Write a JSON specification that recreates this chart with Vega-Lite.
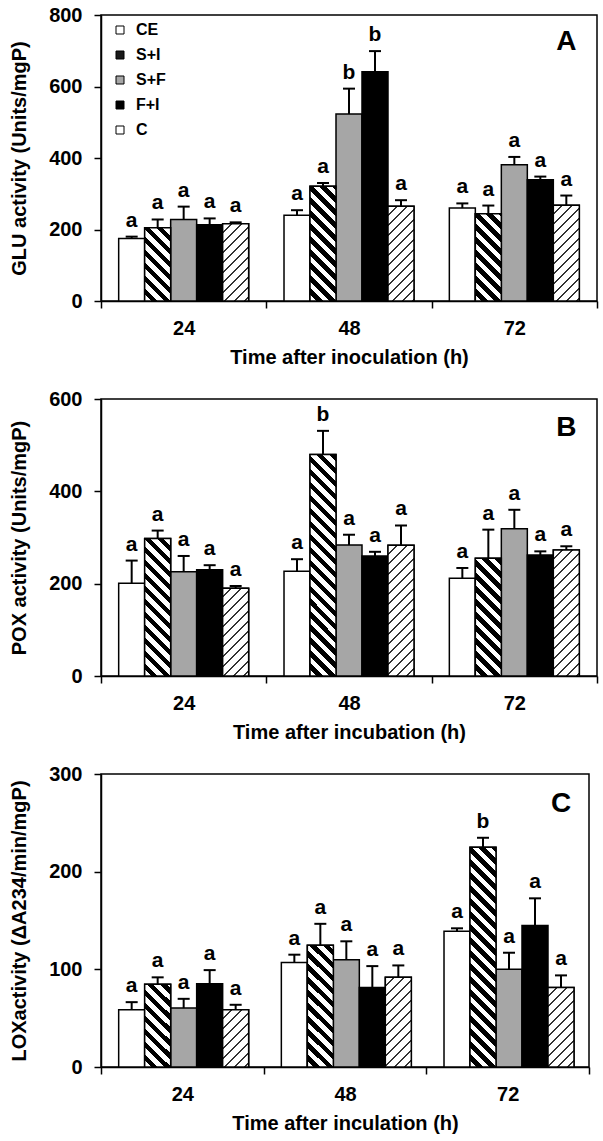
{
  "$schema": "https://vega.github.io/schema/vega-lite/v6.json",
  "padding": {"left": 8, "top": 4, "right": 4, "bottom": 2},
  "spacing": 20,
  "params": [
    {"name": "siStops", "value": [
      {"offset":0,"color":"#fff"},{"offset":0.025,"color":"#fff"},{"offset":0.025,"color":"#000"},{"offset":0.05,"color":"#000"},
      {"offset":0.05,"color":"#fff"},{"offset":0.075,"color":"#fff"},{"offset":0.075,"color":"#000"},{"offset":0.1,"color":"#000"},
      {"offset":0.1,"color":"#fff"},{"offset":0.125,"color":"#fff"},{"offset":0.125,"color":"#000"},{"offset":0.15,"color":"#000"},
      {"offset":0.15,"color":"#fff"},{"offset":0.175,"color":"#fff"},{"offset":0.175,"color":"#000"},{"offset":0.2,"color":"#000"},
      {"offset":0.2,"color":"#fff"},{"offset":0.225,"color":"#fff"},{"offset":0.225,"color":"#000"},{"offset":0.25,"color":"#000"},
      {"offset":0.25,"color":"#fff"},{"offset":0.275,"color":"#fff"},{"offset":0.275,"color":"#000"},{"offset":0.3,"color":"#000"},
      {"offset":0.3,"color":"#fff"},{"offset":0.325,"color":"#fff"},{"offset":0.325,"color":"#000"},{"offset":0.35,"color":"#000"},
      {"offset":0.35,"color":"#fff"},{"offset":0.375,"color":"#fff"},{"offset":0.375,"color":"#000"},{"offset":0.4,"color":"#000"},
      {"offset":0.4,"color":"#fff"},{"offset":0.425,"color":"#fff"},{"offset":0.425,"color":"#000"},{"offset":0.45,"color":"#000"},
      {"offset":0.45,"color":"#fff"},{"offset":0.475,"color":"#fff"},{"offset":0.475,"color":"#000"},{"offset":0.5,"color":"#000"},
      {"offset":0.5,"color":"#fff"},{"offset":0.525,"color":"#fff"},{"offset":0.525,"color":"#000"},{"offset":0.55,"color":"#000"},
      {"offset":0.55,"color":"#fff"},{"offset":0.575,"color":"#fff"},{"offset":0.575,"color":"#000"},{"offset":0.6,"color":"#000"},
      {"offset":0.6,"color":"#fff"},{"offset":0.625,"color":"#fff"},{"offset":0.625,"color":"#000"},{"offset":0.65,"color":"#000"},
      {"offset":0.65,"color":"#fff"},{"offset":0.675,"color":"#fff"},{"offset":0.675,"color":"#000"},{"offset":0.7,"color":"#000"},
      {"offset":0.7,"color":"#fff"},{"offset":0.725,"color":"#fff"},{"offset":0.725,"color":"#000"},{"offset":0.75,"color":"#000"},
      {"offset":0.75,"color":"#fff"},{"offset":0.775,"color":"#fff"},{"offset":0.775,"color":"#000"},{"offset":0.8,"color":"#000"},
      {"offset":0.8,"color":"#fff"},{"offset":0.825,"color":"#fff"},{"offset":0.825,"color":"#000"},{"offset":0.85,"color":"#000"},
      {"offset":0.85,"color":"#fff"},{"offset":0.875,"color":"#fff"},{"offset":0.875,"color":"#000"},{"offset":0.9,"color":"#000"},
      {"offset":0.9,"color":"#fff"},{"offset":0.925,"color":"#fff"},{"offset":0.925,"color":"#000"},{"offset":0.95,"color":"#000"},
      {"offset":0.95,"color":"#fff"},{"offset":0.975,"color":"#fff"},{"offset":0.975,"color":"#000"},{"offset":1,"color":"#000"}
    ]},
    {"name": "cStops", "value": [
      {"offset":0,"color":"#fff"},{"offset":0.04,"color":"#fff"},{"offset":0.04,"color":"#333"},{"offset":0.05,"color":"#333"},
      {"offset":0.05,"color":"#fff"},{"offset":0.09,"color":"#fff"},{"offset":0.09,"color":"#333"},{"offset":0.1,"color":"#333"},
      {"offset":0.1,"color":"#fff"},{"offset":0.14,"color":"#fff"},{"offset":0.14,"color":"#333"},{"offset":0.15,"color":"#333"},
      {"offset":0.15,"color":"#fff"},{"offset":0.19,"color":"#fff"},{"offset":0.19,"color":"#333"},{"offset":0.2,"color":"#333"},
      {"offset":0.2,"color":"#fff"},{"offset":0.24,"color":"#fff"},{"offset":0.24,"color":"#333"},{"offset":0.25,"color":"#333"},
      {"offset":0.25,"color":"#fff"},{"offset":0.29,"color":"#fff"},{"offset":0.29,"color":"#333"},{"offset":0.3,"color":"#333"},
      {"offset":0.3,"color":"#fff"},{"offset":0.34,"color":"#fff"},{"offset":0.34,"color":"#333"},{"offset":0.35,"color":"#333"},
      {"offset":0.35,"color":"#fff"},{"offset":0.39,"color":"#fff"},{"offset":0.39,"color":"#333"},{"offset":0.4,"color":"#333"},
      {"offset":0.4,"color":"#fff"},{"offset":0.44,"color":"#fff"},{"offset":0.44,"color":"#333"},{"offset":0.45,"color":"#333"},
      {"offset":0.45,"color":"#fff"},{"offset":0.49,"color":"#fff"},{"offset":0.49,"color":"#333"},{"offset":0.5,"color":"#333"},
      {"offset":0.5,"color":"#fff"},{"offset":0.54,"color":"#fff"},{"offset":0.54,"color":"#333"},{"offset":0.55,"color":"#333"},
      {"offset":0.55,"color":"#fff"},{"offset":0.59,"color":"#fff"},{"offset":0.59,"color":"#333"},{"offset":0.6,"color":"#333"},
      {"offset":0.6,"color":"#fff"},{"offset":0.64,"color":"#fff"},{"offset":0.64,"color":"#333"},{"offset":0.65,"color":"#333"},
      {"offset":0.65,"color":"#fff"},{"offset":0.69,"color":"#fff"},{"offset":0.69,"color":"#333"},{"offset":0.7,"color":"#333"},
      {"offset":0.7,"color":"#fff"},{"offset":0.74,"color":"#fff"},{"offset":0.74,"color":"#333"},{"offset":0.75,"color":"#333"},
      {"offset":0.75,"color":"#fff"},{"offset":0.79,"color":"#fff"},{"offset":0.79,"color":"#333"},{"offset":0.8,"color":"#333"},
      {"offset":0.8,"color":"#fff"},{"offset":0.84,"color":"#fff"},{"offset":0.84,"color":"#333"},{"offset":0.85,"color":"#333"},
      {"offset":0.85,"color":"#fff"},{"offset":0.89,"color":"#fff"},{"offset":0.89,"color":"#333"},{"offset":0.9,"color":"#333"},
      {"offset":0.9,"color":"#fff"},{"offset":0.94,"color":"#fff"},{"offset":0.94,"color":"#333"},{"offset":0.95,"color":"#333"},
      {"offset":0.95,"color":"#fff"},{"offset":0.99,"color":"#fff"},{"offset":0.99,"color":"#333"},{"offset":1,"color":"#333"}
    ]}
  ],
  "datasets": {
    "glu": [
      {"time":"24","trt":"CE","v":175,"hi":180,"sig":"a"},
      {"time":"24","trt":"S+I","v":205,"hi":228,"sig":"a"},
      {"time":"24","trt":"S+F","v":228,"hi":264,"sig":"a"},
      {"time":"24","trt":"F+I","v":213,"hi":231,"sig":"a"},
      {"time":"24","trt":"C","v":216,"hi":220,"sig":"a"},
      {"time":"48","trt":"CE","v":240,"hi":254,"sig":"a"},
      {"time":"48","trt":"S+I","v":321,"hi":330,"sig":"a"},
      {"time":"48","trt":"S+F","v":523,"hi":594,"sig":"b"},
      {"time":"48","trt":"F+I","v":641,"hi":699,"sig":"b"},
      {"time":"48","trt":"C","v":265,"hi":282,"sig":"a"},
      {"time":"72","trt":"CE","v":260,"hi":273,"sig":"a"},
      {"time":"72","trt":"S+I","v":244,"hi":267,"sig":"a"},
      {"time":"72","trt":"S+F","v":381,"hi":403,"sig":"a"},
      {"time":"72","trt":"F+I","v":339,"hi":348,"sig":"a"},
      {"time":"72","trt":"C","v":268,"hi":295,"sig":"a"}
    ],
    "pox": [
      {"time":"24","trt":"CE","v":201,"hi":250,"sig":"a"},
      {"time":"24","trt":"S+I","v":298,"hi":315,"sig":"a"},
      {"time":"24","trt":"S+F","v":226,"hi":260,"sig":"a"},
      {"time":"24","trt":"F+I","v":230,"hi":240,"sig":"a"},
      {"time":"24","trt":"C","v":190,"hi":195,"sig":"a"},
      {"time":"48","trt":"CE","v":227,"hi":253,"sig":"a"},
      {"time":"48","trt":"S+I","v":480,"hi":531,"sig":"b"},
      {"time":"48","trt":"S+F","v":284,"hi":306,"sig":"a"},
      {"time":"48","trt":"F+I","v":260,"hi":269,"sig":"a"},
      {"time":"48","trt":"C","v":283,"hi":326,"sig":"a"},
      {"time":"72","trt":"CE","v":212,"hi":234,"sig":"a"},
      {"time":"72","trt":"S+I","v":255,"hi":317,"sig":"a"},
      {"time":"72","trt":"S+F","v":319,"hi":360,"sig":"a"},
      {"time":"72","trt":"F+I","v":262,"hi":270,"sig":"a"},
      {"time":"72","trt":"C","v":273,"hi":281,"sig":"a"}
    ],
    "lox": [
      {"time":"24","trt":"CE","v":58.6,"hi":66.4,"sig":"a"},
      {"time":"24","trt":"S+I","v":84.7,"hi":91.8,"sig":"a"},
      {"time":"24","trt":"S+F","v":60.3,"hi":69.8,"sig":"a"},
      {"time":"24","trt":"F+I","v":85.3,"hi":99.2,"sig":"a"},
      {"time":"24","trt":"C","v":58.6,"hi":63.7,"sig":"a"},
      {"time":"48","trt":"CE","v":107,"hi":115,"sig":"a"},
      {"time":"48","trt":"S+I","v":124.6,"hi":146.6,"sig":"a"},
      {"time":"48","trt":"S+F","v":109.7,"hi":128.7,"sig":"a"},
      {"time":"48","trt":"F+I","v":81.3,"hi":103.3,"sig":"a"},
      {"time":"48","trt":"C","v":92,"hi":104,"sig":"a"},
      {"time":"72","trt":"CE","v":139,"hi":142,"sig":"a"},
      {"time":"72","trt":"S+I","v":224.9,"hi":234.7,"sig":"b"},
      {"time":"72","trt":"S+F","v":100,"hi":117,"sig":"a"},
      {"time":"72","trt":"F+I","v":145,"hi":172.7,"sig":"a"},
      {"time":"72","trt":"C","v":81.3,"hi":93.8,"sig":"a"}
    ]
  },
  "resolve": {"scale": {"color": "independent"}, "legend": {"color": "independent"}},
  "vconcat": [
    {
      "width": 496, "height": 286,
      "data": {"name": "glu"},
      "encoding": {
        "x": {"field": "time", "type": "nominal", "scale": {"domain": ["24","48","72"], "paddingInner": 0, "paddingOuter": 0}, "axis": {"title": "Time after inoculation (h)"}},
        "xOffset": {"field": "trt", "type": "nominal", "scale": {"domain": ["CE","S+I","S+F","F+I","C"], "paddingInner": 0, "paddingOuter": 0.68}}
      },
      "layer": [
        {"mark": {"type": "bar", "stroke": "black", "strokeWidth": 1.5},
         "encoding": {
           "y": {"field": "v", "type": "quantitative", "title": "GLU activity (Units/mgP)", "scale": {"domain": [0, 800], "nice": false}, "axis": {"values": [0,200,400,600,800]}},
           "color": {"field": "trt", "type": "nominal", "scale": {"domain": ["CE","S+I","S+F","F+I","C"], "range": ["#ffffff","#1a1a1a","#a6a6a6","#000000","#ffffff"]},
             "legend": {"orient": "none", "legendX": 11, "legendY": 7, "title": null, "symbolType": "square", "symbolSize": 64, "symbolStrokeColor": "black", "symbolStrokeWidth": 1, "symbolOpacity": 1, "labelFontSize": 16, "labelFontWeight": "bold", "labelFont": "Liberation Sans", "labelColor": "black", "rowPadding": 9, "labelOffset": 8, "padding": 0}}
         }},
        {"transform": [{"filter": "datum.trt == 'S+I'"}],
         "mark": {"type": "bar", "stroke": "black", "strokeWidth": 1.5, "fill": {"expr": "{gradient:'linear',x1:0,y1:1,x2:260*26/(676+pow(datum.v*0.3575,2)),y2:1-260*datum.v*0.3575/(676+pow(datum.v*0.3575,2)),stops:siStops}"}},
         "encoding": {"y": {"field": "v", "type": "quantitative", "title": "GLU activity (Units/mgP)"}}},
        {"transform": [{"filter": "datum.trt == 'C'"}],
         "mark": {"type": "bar", "stroke": "black", "strokeWidth": 1.5, "fill": {"expr": "{gradient:'linear',x1:0,y1:0,x2:200*26/(676+pow(datum.v*0.3575,2)),y2:200*datum.v*0.3575/(676+pow(datum.v*0.3575,2)),stops:cStops}"}},
         "encoding": {"y": {"field": "v", "type": "quantitative", "title": "GLU activity (Units/mgP)"}}},
        {"mark": {"type": "rule", "strokeWidth": 2, "color": "black"},
         "encoding": {"y": {"field": "v", "type": "quantitative", "title": "GLU activity (Units/mgP)"}, "y2": {"field": "hi"}}},
        {"mark": {"type": "tick", "thickness": 2, "size": 12, "color": "black", "opacity": 1},
         "encoding": {"y": {"field": "hi", "type": "quantitative", "title": "GLU activity (Units/mgP)"}}},
        {"mark": {"type": "text", "dy": -10, "baseline": "alphabetic", "fontSize": 21, "fontWeight": "bold", "font": "Liberation Sans", "color": "black"},
         "encoding": {"y": {"field": "hi", "type": "quantitative", "title": "GLU activity (Units/mgP)"}, "text": {"field": "sig"}}},
        {"data": {"values": [{"panel": "A"}]},
         "mark": {"type": "text", "baseline": "alphabetic", "align": "center", "fontSize": 28, "fontWeight": "bold", "font": "Liberation Sans", "color": "black"},
         "encoding": {"x": {"datum": "72"}, "xOffset": {"datum": "C"}, "y": {"datum": 702, "type": "quantitative", "title": "GLU activity (Units/mgP)"}, "text": {"field": "panel"}}}
      ]
    },
    {
      "width": 496, "height": 277,
      "data": {"name": "pox"},
      "encoding": {
        "x": {"field": "time", "type": "nominal", "scale": {"domain": ["24","48","72"], "paddingInner": 0, "paddingOuter": 0}, "axis": {"title": "Time after incubation (h)"}},
        "xOffset": {"field": "trt", "type": "nominal", "scale": {"domain": ["CE","S+I","S+F","F+I","C"], "paddingInner": 0, "paddingOuter": 0.68}}
      },
      "layer": [
        {"mark": {"type": "bar", "stroke": "black", "strokeWidth": 1.5},
         "encoding": {
           "y": {"field": "v", "type": "quantitative", "title": "POX activity  (Units/mgP)", "scale": {"domain": [0, 600], "nice": false}, "axis": {"values": [0,200,400,600]}},
           "color": {"field": "trt", "type": "nominal", "scale": {"domain": ["CE","S+I","S+F","F+I","C"], "range": ["#ffffff","#1a1a1a","#a6a6a6","#000000","#ffffff"]}, "legend": null}
         }},
        {"transform": [{"filter": "datum.trt == 'S+I'"}],
         "mark": {"type": "bar", "stroke": "black", "strokeWidth": 1.5, "fill": {"expr": "{gradient:'linear',x1:0,y1:1,x2:260*26/(676+pow(datum.v*0.4617,2)),y2:1-260*datum.v*0.4617/(676+pow(datum.v*0.4617,2)),stops:siStops}"}},
         "encoding": {"y": {"field": "v", "type": "quantitative", "title": "POX activity  (Units/mgP)"}}},
        {"transform": [{"filter": "datum.trt == 'C'"}],
         "mark": {"type": "bar", "stroke": "black", "strokeWidth": 1.5, "fill": {"expr": "{gradient:'linear',x1:0,y1:0,x2:200*26/(676+pow(datum.v*0.4617,2)),y2:200*datum.v*0.4617/(676+pow(datum.v*0.4617,2)),stops:cStops}"}},
         "encoding": {"y": {"field": "v", "type": "quantitative", "title": "POX activity  (Units/mgP)"}}},
        {"mark": {"type": "rule", "strokeWidth": 2, "color": "black"},
         "encoding": {"y": {"field": "v", "type": "quantitative", "title": "POX activity  (Units/mgP)"}, "y2": {"field": "hi"}}},
        {"mark": {"type": "tick", "thickness": 2, "size": 12, "color": "black", "opacity": 1},
         "encoding": {"y": {"field": "hi", "type": "quantitative", "title": "POX activity  (Units/mgP)"}}},
        {"mark": {"type": "text", "dy": -10, "baseline": "alphabetic", "fontSize": 21, "fontWeight": "bold", "font": "Liberation Sans", "color": "black"},
         "encoding": {"y": {"field": "hi", "type": "quantitative", "title": "POX activity  (Units/mgP)"}, "text": {"field": "sig"}}},
        {"data": {"values": [{"panel": "B"}]},
         "mark": {"type": "text", "baseline": "alphabetic", "align": "center", "fontSize": 28, "fontWeight": "bold", "font": "Liberation Sans", "color": "black"},
         "encoding": {"x": {"datum": "72"}, "xOffset": {"datum": "C"}, "y": {"datum": 520, "type": "quantitative", "title": "POX activity  (Units/mgP)"}, "text": {"field": "panel"}}}
      ]
    },
    {
      "width": 488, "height": 293,
      "data": {"name": "lox"},
      "encoding": {
        "x": {"field": "time", "type": "nominal", "scale": {"domain": ["24","48","72"], "paddingInner": 0, "paddingOuter": 0}, "axis": {"title": "Time after inculation (h)"}},
        "xOffset": {"field": "trt", "type": "nominal", "scale": {"domain": ["CE","S+I","S+F","F+I","C"], "paddingInner": 0, "paddingOuter": 0.68}}
      },
      "layer": [
        {"mark": {"type": "bar", "stroke": "black", "strokeWidth": 1.5},
         "encoding": {
           "y": {"field": "v", "type": "quantitative", "title": "LOXactivity (ΔA234/min/mgP)", "scale": {"domain": [0, 300], "nice": false}, "axis": {"values": [0,100,200,300]}},
           "color": {"field": "trt", "type": "nominal", "scale": {"domain": ["CE","S+I","S+F","F+I","C"], "range": ["#ffffff","#1a1a1a","#a6a6a6","#000000","#ffffff"]}, "legend": null}
         }},
        {"transform": [{"filter": "datum.trt == 'S+I'"}],
         "mark": {"type": "bar", "stroke": "black", "strokeWidth": 1.5, "fill": {"expr": "{gradient:'linear',x1:0,y1:1,x2:260*25.6/(655+pow(datum.v*0.9767,2)),y2:1-260*datum.v*0.9767/(655+pow(datum.v*0.9767,2)),stops:siStops}"}},
         "encoding": {"y": {"field": "v", "type": "quantitative", "title": "LOXactivity (ΔA234/min/mgP)"}}},
        {"transform": [{"filter": "datum.trt == 'C'"}],
         "mark": {"type": "bar", "stroke": "black", "strokeWidth": 1.5, "fill": {"expr": "{gradient:'linear',x1:0,y1:0,x2:200*25.6/(655+pow(datum.v*0.9767,2)),y2:200*datum.v*0.9767/(655+pow(datum.v*0.9767,2)),stops:cStops}"}},
         "encoding": {"y": {"field": "v", "type": "quantitative", "title": "LOXactivity (ΔA234/min/mgP)"}}},
        {"mark": {"type": "rule", "strokeWidth": 2, "color": "black"},
         "encoding": {"y": {"field": "v", "type": "quantitative", "title": "LOXactivity (ΔA234/min/mgP)"}, "y2": {"field": "hi"}}},
        {"mark": {"type": "tick", "thickness": 2, "size": 12, "color": "black", "opacity": 1},
         "encoding": {"y": {"field": "hi", "type": "quantitative", "title": "LOXactivity (ΔA234/min/mgP)"}}},
        {"mark": {"type": "text", "dy": -10, "baseline": "alphabetic", "fontSize": 21, "fontWeight": "bold", "font": "Liberation Sans", "color": "black"},
         "encoding": {"y": {"field": "hi", "type": "quantitative", "title": "LOXactivity (ΔA234/min/mgP)"}, "text": {"field": "sig"}}},
        {"data": {"values": [{"panel": "C"}]},
         "mark": {"type": "text", "baseline": "alphabetic", "align": "center", "fontSize": 28, "fontWeight": "bold", "font": "Liberation Sans", "color": "black"},
         "encoding": {"x": {"datum": "72"}, "xOffset": {"datum": "C"}, "y": {"datum": 261, "type": "quantitative", "title": "LOXactivity (ΔA234/min/mgP)"}, "text": {"field": "panel"}}}
      ]
    }
  ],
  "config": {
    "font": "Liberation Sans",
    "background": "white",
    "view": {"stroke": "black", "strokeWidth": 1.5},
    "axis": {"domainColor": "black", "domainWidth": 1.5, "tickColor": "black", "tickWidth": 1.5, "tickSize": 7, "grid": false,
      "labelFont": "Liberation Sans", "labelFontWeight": "bold", "labelFontSize": 20, "labelColor": "black",
      "titleFont": "Liberation Sans", "titleFontWeight": "bold", "titleFontSize": 20, "titleColor": "black"},
    "axisX": {"labelAngle": 0, "labelPadding": 10, "titlePadding": 9, "tickBand": "extent"},
    "axisY": {"labelPadding": 12, "titlePadding": 19}
  }
}
